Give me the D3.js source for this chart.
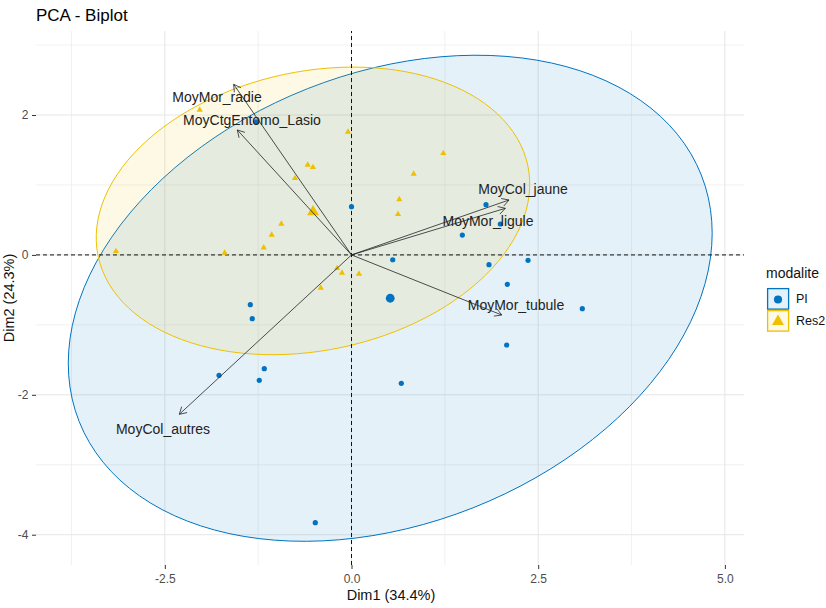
<!DOCTYPE html>
<html>
<head>
<meta charset="utf-8">
<script src="https://cdn.jsdelivr.net/npm/d3@7"></script>
<style>
body { margin: 0; background: #fff; }
text { font-family: "Liberation Sans", Arial, sans-serif; }
</style>
</head>
<body>
<div class="vis-Biplot"></div>
<script>
// individuals, coordinates on Dim1 / Dim2
const piX = [-1.279, 0.00, 0.552, 1.801, 1.993, 1.484, 1.841, 2.364, -1.355, -1.329, -1.774, -1.168, -1.235, 0.667, -0.485, 2.087, 3.091, 2.078];
const piY = [1.904, 0.689, -0.069, 0.718, 0.442, 0.284, -0.140, -0.077, -0.712, -0.912, -1.721, -1.627, -1.793, -1.836, -3.828, -0.420, -0.769, -1.288];
const res2X = [-2.033, -0.047, -0.587, -0.516, -0.757, 1.229, 0.833, 0.640, 0.623, -0.940, -1.069, -1.176, -1.698, -3.154, -0.194, -0.127, 0.100, -0.412];
const res2Y = [2.081, 1.767, 1.295, 1.261, 1.104, 1.461, 1.167, 0.803, 0.589, 0.452, 0.294, 0.113, 0.037, 0.060, -0.183, -0.249, -0.263, -0.463];

// variables (arrow tips) and where their labels sit
const varNames = ["MoyMor_radie", "MoyCtgEntomo_Lasio", "MoyCol_jaune", "MoyMor_ligule", "MoyMor_tubule", "MoyCol_autres"];
const varX = [-1.578, -1.529, 2.109, 2.060, 2.012, -2.306];
const varY = [2.439, 1.786, 0.785, 0.666, -0.859, -2.279];
const labelX = [-1.801, -1.333, 2.297, 1.828, 2.203, -2.524];
const labelY = [2.258, 1.929, 0.942, 0.485, -0.716, -2.489];

const groups = ["PI", "Res2"];
const groupColors = ["#0073C2", "#EFC000"];
// conjugate semi-axes of the 95% ellipses (Dim1, Dim2 units)
const ellipseA = [[4.166, 1.761], [2.877, 0.648]];
const ellipseB = [[1.110, -2.995], [0.386, -1.951]];

const xTicks = [-2.5, 0, 2.5, 5];
const xMinor = [-3.75, -1.25, 1.25, 3.75];
const yTicks = [-4, -2, 0, 2];
const yMinor = [-3, -1, 1, 3];

const width = 826, height = 608;
const margin = {left: 36, right: 82, top: 31, bottom: 43};

const svg = d3.select('.vis-Biplot')
    .append('svg')
    .attr("width", width)
    .attr("height", height);

const x = d3.scaleLinear()
    .domain([-4.225, 5.256])
    .range([margin.left, width - margin.right]);
const y = d3.scaleLinear()
    .domain([-4.433, 3.201])
    .range([height - margin.bottom, margin.top]);

const color = d3.scaleOrdinal().domain(groups).range(groupColors);

// grid
const grid = svg.append("g");
grid.selectAll(".xminor").data(xMinor).join("line")
    .attr("x1", d => x(d)).attr("x2", d => x(d))
    .attr("y1", y.range()[0]).attr("y2", y.range()[1])
    .attr("stroke", "#EEEEEE").attr("stroke-width", 0.8);
grid.selectAll(".yminor").data(yMinor).join("line")
    .attr("y1", d => y(d)).attr("y2", d => y(d))
    .attr("x1", x.range()[0]).attr("x2", x.range()[1])
    .attr("stroke", "#EEEEEE").attr("stroke-width", 0.8);
grid.selectAll(".xmajor").data(xTicks).join("line")
    .attr("x1", d => x(d)).attr("x2", d => x(d))
    .attr("y1", y.range()[0]).attr("y2", y.range()[1])
    .attr("stroke", "#E6E6E6").attr("stroke-width", 1);
grid.selectAll(".ymajor").data(yTicks).join("line")
    .attr("y1", d => y(d)).attr("y2", d => y(d))
    .attr("x1", x.range()[0]).attr("x2", x.range()[1])
    .attr("stroke", "#E6E6E6").attr("stroke-width", 1);

const ind = [
    {group: "PI", pts: piX.map((v, i) => [v, piY[i]])},
    {group: "Res2", pts: res2X.map((v, i) => [v, res2Y[i]])}
];
ind.forEach(g => g.mean = [d3.mean(g.pts, p => p[0]), d3.mean(g.pts, p => p[1])]);

// ellipses
const line = d3.line().x(d => x(d[0])).y(d => y(d[1]));
svg.append("g").selectAll("path")
    .data(ind)
    .join("path")
    .attr("d", (g, i) => {
        const a = ellipseA[i], b = ellipseB[i];
        const pts = d3.range(121).map(k => {
            const t = k / 120 * 2 * Math.PI;
            return [g.mean[0] + Math.cos(t) * a[0] + Math.sin(t) * b[0],
                    g.mean[1] + Math.cos(t) * a[1] + Math.sin(t) * b[1]];
        });
        return line(pts) + "Z";
    })
    .attr("fill", g => color(g.group))
    .attr("fill-opacity", 0.1)
    .attr("stroke", g => color(g.group))
    .attr("stroke-width", 1);

// dashed axes through origin
svg.append("line")
    .attr("x1", x.range()[0]).attr("x2", x.range()[1])
    .attr("y1", y(0)).attr("y2", y(0))
    .attr("stroke", "#111").attr("stroke-width", 1).attr("stroke-dasharray", "4,3");
svg.append("line")
    .attr("x1", x(0)).attr("x2", x(0))
    .attr("y1", y.range()[0]).attr("y2", y.range()[1])
    .attr("stroke", "#111").attr("stroke-width", 1).attr("stroke-dasharray", "4,3");

// individuals
const tri = d3.symbol().type(d3.symbolTriangle);
const pointsG = svg.append("g");
pointsG.selectAll("circle")
    .data(ind[0].pts)
    .join("circle")
    .attr("cx", d => x(d[0])).attr("cy", d => y(d[1]))
    .attr("r", 2.6)
    .attr("fill", color("PI"));
pointsG.selectAll(".tri")
    .data(ind[1].pts)
    .join("path")
    .attr("class", "tri")
    .attr("transform", d => `translate(${x(d[0])},${y(d[1]) + 0.6})`)
    .attr("d", tri.size(17)())
    .attr("fill", color("Res2"));
// group means
pointsG.append("circle")
    .attr("cx", x(ind[0].mean[0])).attr("cy", y(ind[0].mean[1]))
    .attr("r", 4.4)
    .attr("fill", color("PI"));
pointsG.append("path")
    .attr("transform", `translate(${x(ind[1].mean[0])},${y(ind[1].mean[1]) + 1})`)
    .attr("d", tri.size(62)())
    .attr("fill", color("Res2"));

// variable arrows
const vars = varNames.map((n, i) => ({name: n, x: varX[i], y: varY[i], lx: labelX[i], ly: labelY[i]}));
const arrows = svg.append("g")
    .attr("stroke", "#222")
    .attr("stroke-width", 0.8)
    .attr("fill", "none");
arrows.selectAll(".shaft")
    .data(vars)
    .join("line")
    .attr("x1", x(0)).attr("y1", y(0))
    .attr("x2", d => x(d.x)).attr("y2", d => y(d.y));
arrows.selectAll(".head")
    .data(vars)
    .join("path")
    .attr("d", d => {
        const tx = x(d.x), ty = y(d.y);
        const ang = Math.atan2(ty - y(0), tx - x(0));
        const len = 8, spread = Math.PI / 6;
        const p1 = [tx - len * Math.cos(ang - spread), ty - len * Math.sin(ang - spread)];
        const p2 = [tx - len * Math.cos(ang + spread), ty - len * Math.sin(ang + spread)];
        return `M${p1}L${tx},${ty}L${p2}`;
    });
svg.append("g").selectAll("text")
    .data(vars)
    .join("text")
    .attr("x", d => x(d.lx)).attr("y", d => y(d.ly))
    .attr("text-anchor", "middle")
    .attr("dominant-baseline", "central")
    .attr("font-size", "14px")
    .attr("fill", "#222")
    .text(d => d.name);

// axes
const xAxis = svg.append("g")
    .attr("transform", `translate(0,${height - margin.bottom})`)
    .call(d3.axisBottom(x).tickValues(xTicks).tickFormat(d => d.toFixed(1)).tickSize(4).tickPadding(5));
const yAxis = svg.append("g")
    .attr("transform", `translate(${margin.left},0)`)
    .call(d3.axisLeft(y).tickValues(yTicks).tickFormat(d => String(d)).tickSize(4).tickPadding(3.5));
[xAxis, yAxis].forEach(a => {
    a.select(".domain").remove();
    a.selectAll(".tick line").attr("stroke", "#333");
    a.selectAll(".tick text")
        .attr("font-size", "12px")
        .attr("font-family", "Liberation Sans, Arial, sans-serif")
        .attr("fill", "#4D4D4D");
});

svg.append("text")
    .attr("x", (x.range()[0] + x.range()[1]) / 2 + 1)
    .attr("y", 599.5)
    .attr("text-anchor", "middle")
    .attr("font-size", "14.5px")
    .attr("fill", "#111")
    .text("Dim1 (34.4%)");
svg.append("text")
    .attr("transform", `translate(13.5,${(y.range()[0] + y.range()[1]) / 2}) rotate(-90)`)
    .attr("text-anchor", "middle")
    .attr("font-size", "14.5px")
    .attr("fill", "#111")
    .text("Dim2 (24.3%)");
svg.append("text")
    .attr("x", 36)
    .attr("y", 21)
    .attr("font-size", "17px")
    .attr("fill", "#000")
    .text("PCA - Biplot");

// legend
const legend = svg.append("g").attr("transform", "translate(767,278)");
legend.append("text")
    .attr("x", -1).attr("y", 0)
    .attr("font-size", "14px")
    .attr("fill", "#111")
    .text("modalite");
const keys = legend.selectAll(".key")
    .data(groups)
    .join("g")
    .attr("transform", (d, i) => `translate(0,${10 + i * 22})`);
keys.append("rect")
    .attr("x", 0.6).attr("y", 0.6)
    .attr("width", 21).attr("height", 20.5)
    .attr("fill", d => color(d)).attr("fill-opacity", 0.1)
    .attr("stroke", d => color(d)).attr("stroke-width", 1.3);
keys.append("path")
    .attr("transform", "translate(11,11.5)")
    .attr("d", (d, i) => i === 0 ? d3.symbol().type(d3.symbolCircle).size(52)() : tri.size(62)())
    .attr("fill", d => color(d));
keys.append("text")
    .attr("x", 29).attr("y", 11.3)
    .attr("dominant-baseline", "central")
    .attr("font-size", "12.5px")
    .attr("fill", "#111")
    .text(d => d);
</script>
</body>
</html>
